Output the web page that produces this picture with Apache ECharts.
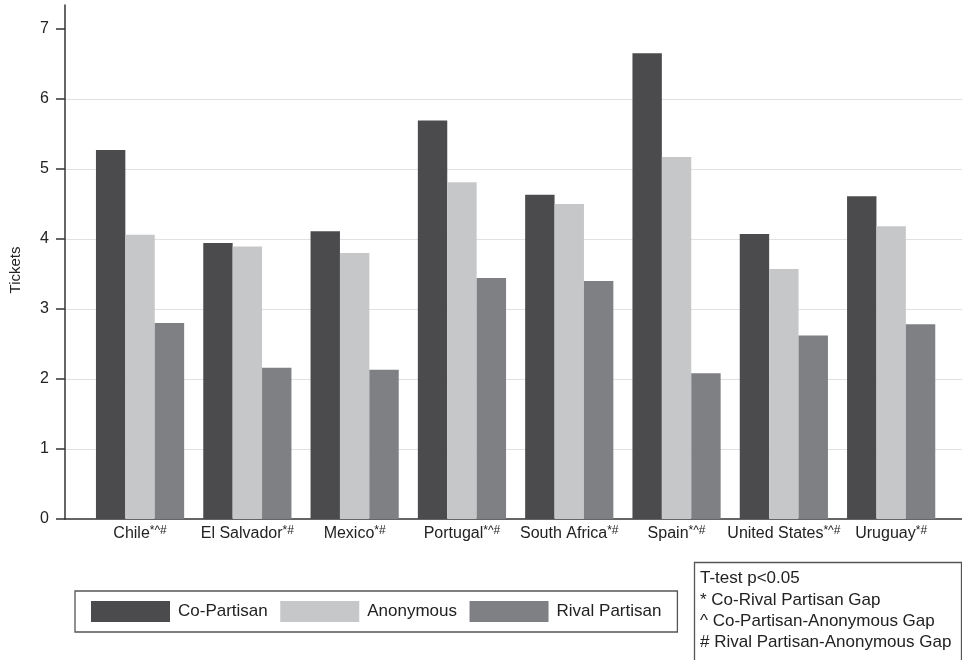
<!DOCTYPE html>
<html>
<head>
<meta charset="utf-8">
<title>Tickets by recipient type</title>
<script src="https://cdn.jsdelivr.net/npm/echarts@6/dist/echarts.min.js"></script>
<style>
  html, body { margin: 0; padding: 0; background: #fff; }
  #chart { width: 962px; height: 660px; }
</style>
</head>
<body>
<div id="chart"></div>
<script>
// Countries and the significance markers shown after each name
const countries = ['Chile', 'El Salvador', 'Mexico', 'Portugal', 'South Africa', 'Spain', 'United States', 'Uruguay'];
const markers = ['*^#', '*#', '*#', '*^#', '*#', '*^#', '*^#', '*#'];

// Mean tickets per recipient type
const coPartisan    = [5.27, 3.94, 4.11, 5.69, 4.63, 6.65, 4.07, 4.61];
const anonymous     = [4.06, 3.89, 3.80, 4.81, 4.50, 5.17, 3.57, 4.18];
const rivalPartisan = [2.80, 2.16, 2.13, 3.44, 3.40, 2.08, 2.62, 2.78];

const yTicks = [0, 1, 2, 3, 4, 5, 6, 7];

const noteLines = [
  'T-test p<0.05',
  '* Co-Rival Partisan Gap',
  '^ Co-Partisan-Anonymous Gap',
  '# Rival Partisan-Anonymous Gap'
];

const FONT = "'Liberation Sans', Arial, Helvetica, sans-serif";
const INK = '#222222';
const AXIS = '#333333';
const COLORS = ['#4b4b4d', '#c6c7c9', '#7f8084'];

const chart = echarts.init(document.getElementById('chart'), null, { renderer: 'canvas' });

const yMax = 7.34;

chart.setOption({
  animation: false,
  backgroundColor: '#ffffff',
  textStyle: { fontFamily: FONT },
  title: {
    left: 694,
    top: 562,
    text: noteLines.join('\n'),
    padding: [6, 10, 40, 6],
    borderColor: '#555555',
    borderWidth: 1.3,
    textStyle: {
      fontFamily: FONT,
      fontSize: 17,
      fontWeight: 'normal',
      lineHeight: 21.3,
      color: INK
    }
  },
  legend: {
    left: 75,
    top: 591,
    orient: 'horizontal',
    itemWidth: 79,
    itemHeight: 21,
    itemGap: 12.5,
    padding: [10, 16, 10, 16],
    borderColor: '#555555',
    borderWidth: 1.3,
    icon: 'rect',
    selectedMode: false,
    textStyle: {
      fontFamily: FONT,
      fontSize: 17,
      color: INK,
      width: 97.5,
      padding: [0, 0, 0, 3]
    },
    data: ['Co-Partisan', 'Anonymous', 'Rival Partisan']
  },
  grid: [
    { left: 64, right: 0, top: 5, bottom: 141 },
    { left: 86.4, width: 858.4, top: 5, bottom: 141 }
  ],
  xAxis: [
    {
      gridIndex: 0,
      type: 'value',
      min: 0,
      max: 1,
      axisLine: { show: true, lineStyle: { color: AXIS, width: 1.5 } },
      axisTick: { show: false },
      axisLabel: { show: false },
      splitLine: { show: false }
    },
    {
      gridIndex: 1,
      type: 'category',
      data: countries,
      axisLine: { show: false },
      axisTick: { show: false },
      axisLabel: {
        margin: 6,
        fontFamily: FONT,
        fontSize: 16,
        color: INK,
        interval: 0,
        formatter: (v, i) => v + '{s|' + markers[i] + '}',
        rich: {
          s: { fontFamily: FONT, fontSize: 12, color: INK, verticalAlign: 'top', lineHeight: 18 }
        }
      },
      splitLine: { show: false }
    }
  ],
  yAxis: [
    {
      gridIndex: 0,
      type: 'value',
      min: 0,
      max: yMax,
      interval: 1,
      name: 'Tickets',
      nameLocation: 'middle',
      nameGap: 42,
      nameTextStyle: { fontFamily: FONT, fontSize: 15, color: INK, padding: [0, 16, 0, 0] },
      axisLine: { show: true, lineStyle: { color: AXIS, width: 1.5 } },
      axisTick: { show: true, length: 9, customValues: yTicks, lineStyle: { color: AXIS, width: 1.5 } },
      axisLabel: { customValues: yTicks, margin: 16, fontFamily: FONT, fontSize: 16, color: INK },
      splitLine: { show: true, showMinLine: false, showMaxLine: false, lineStyle: { color: '#e1e1e1', width: 1.2 } }
    },
    {
      gridIndex: 1,
      type: 'value',
      min: 0,
      max: yMax,
      show: false,
      splitLine: { show: false }
    }
  ],
  series: [
    { name: 'Co-Partisan', type: 'bar', xAxisIndex: 1, yAxisIndex: 1, data: coPartisan,
      barWidth: 29.4, barGap: '0%', itemStyle: { color: COLORS[0] } },
    { name: 'Anonymous', type: 'bar', xAxisIndex: 1, yAxisIndex: 1, data: anonymous,
      barWidth: 29.4, barGap: '0%', itemStyle: { color: COLORS[1] } },
    { name: 'Rival Partisan', type: 'bar', xAxisIndex: 1, yAxisIndex: 1, data: rivalPartisan,
      barWidth: 29.4, barGap: '0%', itemStyle: { color: COLORS[2] } }
  ]
});
</script>
</body>
</html>
